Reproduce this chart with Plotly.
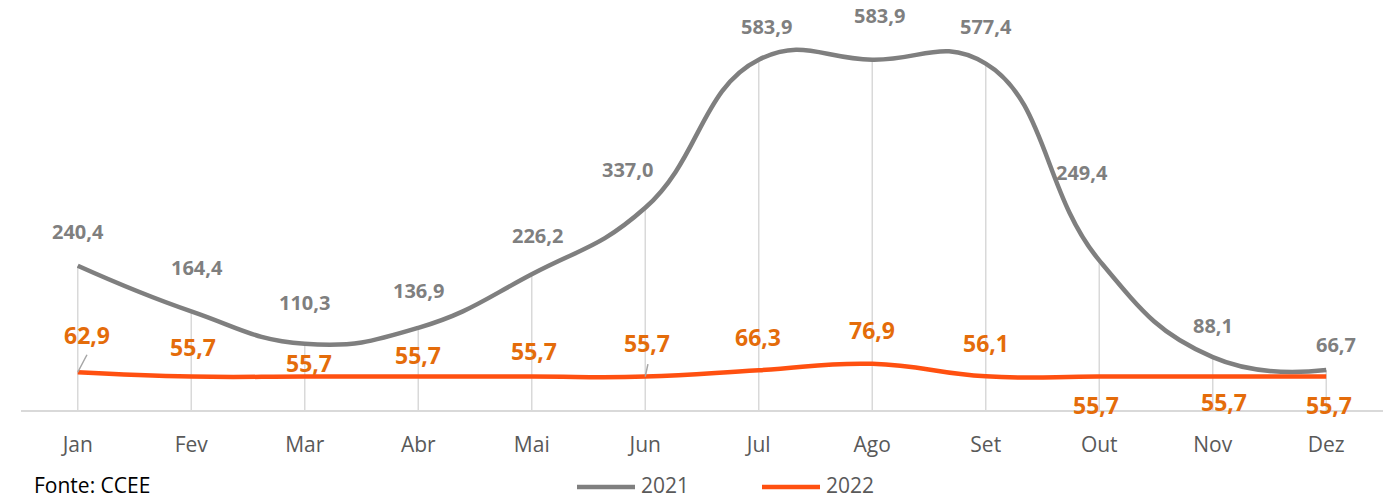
import plotly.graph_objects as go

months = ["Jan", "Fev", "Mar", "Abr", "Mai", "Jun", "Jul", "Ago", "Set", "Out", "Nov", "Dez"]
v2021 = [240.4, 164.4, 110.3, 136.9, 226.2, 337.0, 583.9, 583.9, 577.4, 249.4, 88.1, 66.7]
v2022 = [62.9, 55.7, 55.7, 55.7, 55.7, 55.7, 66.3, 76.9, 56.1, 55.7, 55.7, 55.7]
series_names = ["2021", "2022"]
source_note = "Fonte: CCEE"

# label offsets in pixels (dx, dy) — placement only
off2021 = [(0, 34), (6, 44), (0, 41), (0, 37), (6, 39), (-18, 38), (8, 33), (7, 44), (0, 37), (-17, 88), (0, 32), (10, 25)]
off2022 = [(9, 37), (2, 30), (4, 14), (0, 22), (2, 26), (2, 34), (-1, 33), (0, 34), (0, 33), (-3, -28), (11, -25), (3, -28)]

GRAY = "#7f7f7f"
ORANGE_LINE = "#ff5010"
ORANGE_TXT = "#e46c0a"
TICK = "#595959"
FONT = "Open Sans"

W, H = 1389, 498
ML, MR, MT, MB = 21, 6, 20, 88
PLOT_W = W - ML - MR
PLOT_H = H - MT - MB
X0 = ML
Y0 = MT + PLOT_H  # axis pixel row


def px2paper_x(px):
    return (px - X0) / PLOT_W


def px2paper_y(py):
    return (Y0 - py) / PLOT_H


def fmt(v):
    return f"{v:.1f}".replace(".", ",")


fig = go.Figure()

# drop lines from the highest series to the axis
dx, dy = [], []
for m, a, b in zip(months, v2021, v2022):
    dx += [m, m, None]
    dy += [0, max(a, b), None]
fig.add_trace(go.Scatter(x=dx, y=dy, mode="lines", line=dict(color="#d9d9d9", width=1.5),
                         showlegend=False, hoverinfo="skip"))

fig.add_trace(go.Scatter(x=months, y=v2021, name=series_names[0], mode="lines", showlegend=False,
                         line=dict(color=GRAY, width=4.5, shape="spline", smoothing=1.3)))
fig.add_trace(go.Scatter(x=months, y=v2022, name=series_names[1], mode="lines", showlegend=False,
                         line=dict(color=ORANGE_LINE, width=4.5, shape="spline", smoothing=1.3)))

for m, v, (ox, oy) in zip(months, v2021, off2021):
    fig.add_annotation(x=m, y=v, text=fmt(v), showarrow=False, xshift=ox, yshift=oy,
                       font=dict(family=FONT, size=20, color=GRAY, weight="bold"))
for m, v, (ox, oy) in zip(months, v2022, off2022):
    fig.add_annotation(x=m, y=v, text=fmt(v), showarrow=False, xshift=ox, yshift=oy,
                       font=dict(family=FONT, size=23, color=ORANGE_TXT, weight="bold"))

# leader lines for moved labels (Jan, Jun of 2022)
for idx, (ax, ay) in [(0, (10, -19)), (5, (3, -14))]:
    fig.add_annotation(x=months[idx], y=v2022[idx], ax=ax, ay=ay, axref="pixel", ayref="pixel",
                       text="", showarrow=True, arrowhead=0, arrowwidth=1.5, arrowcolor="#a6a6a6")

# source note
fig.add_annotation(xref="paper", yref="paper", x=px2paper_x(32), y=px2paper_y(485),
                   xanchor="left", yanchor="middle", text=source_note, showarrow=False,
                   font=dict(family=FONT, size=21, color="#000000"))

# legend (drawn manually to get the long line swatches)
legend_items = [(series_names[0], GRAY, 577, 635), (series_names[1], ORANGE_LINE, 762, 820)]
for name, col, x_a, x_b in legend_items:
    fig.add_shape(type="line", xref="paper", yref="paper",
                  x0=px2paper_x(x_a), x1=px2paper_x(x_b), y0=px2paper_y(487), y1=px2paper_y(487),
                  line=dict(color=col, width=4.5))
    fig.add_annotation(xref="paper", yref="paper", x=px2paper_x(x_b + 4), y=px2paper_y(485),
                       xanchor="left", yanchor="middle", text=name, showarrow=False,
                       font=dict(family=FONT, size=21, color=TICK))

fig.update_layout(
    width=W, height=H,
    margin=dict(l=ML, r=MR, t=MT, b=MB, autoexpand=False),
    plot_bgcolor="white", paper_bgcolor="white",
    font=dict(family=FONT),
    showlegend=False,
    xaxis=dict(type="category", range=[-0.5, 11.5], showgrid=False, showline=True,
               linecolor="#d9d9d9", linewidth=2, ticks="", automargin=False,
               tickfont=dict(family=FONT, size=21, color=TICK),
               ticklabelstandoff=15, fixedrange=True),
    yaxis=dict(range=[0, 650], visible=False, showgrid=False, zeroline=False, fixedrange=True,
               automargin=False),
)

fig.write_html("out.html", config={"displayModeBar": False},
               post_script="document.body.style.margin='0';document.body.style.overflow='hidden';")
